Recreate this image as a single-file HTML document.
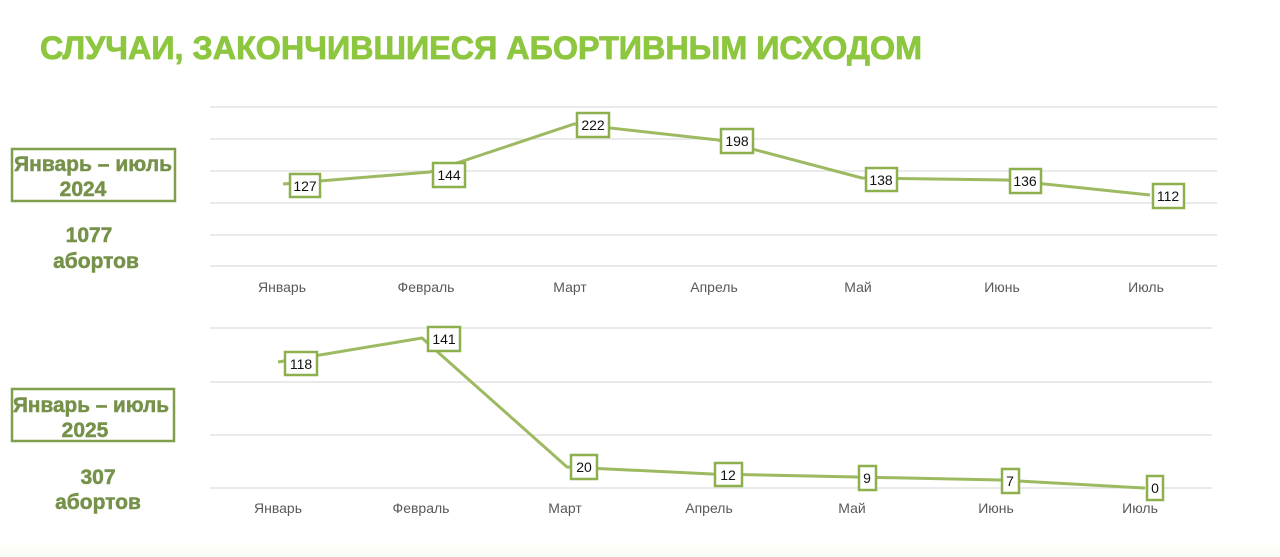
<!DOCTYPE html>
<html><head><meta charset="utf-8"><style>
body{margin:0;background:#fff;}
svg{display:block;font-family:"Liberation Sans","DejaVu Sans",sans-serif;}
</style></head><body>
<svg width="1280" height="557" viewBox="0 0 1280 557">
<rect width="1280" height="557" fill="#fff"/>
<rect x="0" y="545" width="1280" height="12" fill="#fbfdf6"/>
<text x="40" y="59" font-size="32" font-weight="bold" fill="#8dc63f" textLength="882" lengthAdjust="spacingAndGlyphs" stroke="#8dc63f" stroke-width="0.8">СЛУЧАИ, ЗАКОНЧИВШИЕСЯ АБОРТИВНЫМ ИСХОДОМ</text>
<g stroke="#e3e3e3" stroke-width="1.5">
<line x1="210" x2="1217" y1="107" y2="107"/><line x1="210" x2="1217" y1="139" y2="139"/>
<line x1="210" x2="1217" y1="171" y2="171"/><line x1="210" x2="1217" y1="203" y2="203"/>
<line x1="210" x2="1217" y1="235" y2="235"/><line x1="210" x2="1217" y1="266" y2="266"/>
<line x1="210" x2="1212" y1="328" y2="328"/><line x1="210" x2="1212" y1="382" y2="382"/>
<line x1="210" x2="1212" y1="435" y2="435"/><line x1="210" x2="1212" y1="488" y2="488"/>
</g>
<g font-size="14" fill="#595959" text-anchor="middle">
<text x="282" y="292">Январь</text><text x="426" y="292">Февраль</text><text x="570" y="292">Март</text><text x="714" y="292">Апрель</text><text x="858" y="292">Май</text><text x="1002" y="292">Июнь</text><text x="1146" y="292">Июль</text>
<text x="278" y="513">Январь</text><text x="421" y="513">Февраль</text><text x="565" y="513">Март</text><text x="709" y="513">Апрель</text><text x="852" y="513">Май</text><text x="996" y="513">Июнь</text><text x="1140" y="513">Июль</text>
</g>
<g fill="none" stroke="#9dba62" stroke-width="3" stroke-linejoin="round">
<polyline points="283,184 430,172 574,124 718,140 862,178 1006,180 1150,195"/>
<polyline points="278,362 422,338 567,467 712,474 857,477 1000,480 1145,488"/>
</g>
<g fill="#fff" stroke="#8db04f" stroke-width="2.5">
<rect x="290" y="174" width="30" height="23"/><rect x="433" y="163" width="32" height="24"/>
<rect x="577" y="113" width="32" height="24"/><rect x="721" y="129" width="32" height="24"/>
<rect x="866" y="168" width="31" height="23"/><rect x="1010" y="169" width="31" height="24"/>
<rect x="1153" y="184" width="31" height="24"/>
<rect x="285" y="352" width="32" height="23"/><rect x="428" y="327" width="32" height="24"/>
<rect x="571" y="455" width="26" height="24"/><rect x="715" y="463" width="27" height="23"/>
<rect x="859" y="466" width="17" height="24"/><rect x="1002" y="469" width="17" height="24"/>
<rect x="1147" y="476" width="16" height="24"/>
</g>
<g font-size="14" fill="#111" text-anchor="middle">
<text x="305" y="191">127</text><text x="449" y="180">144</text><text x="593" y="130">222</text><text x="737" y="146">198</text>
<text x="881" y="185">138</text><text x="1025" y="186">136</text><text x="1168" y="201">112</text>
<text x="301" y="369">118</text><text x="444" y="344">141</text><text x="584" y="472">20</text><text x="728" y="480">12</text>
<text x="867" y="483">9</text><text x="1010" y="486">7</text><text x="1155" y="493">0</text>
</g>
<g fill="none" stroke="#7f9f4b" stroke-width="2.5">
<rect x="12" y="149" width="163" height="52"/><rect x="12" y="389" width="162" height="52"/>
</g>
<g font-size="21" font-weight="bold" fill="#76924a" stroke="#76924a" stroke-width="0.5" text-anchor="middle">
<text x="93" y="171" textLength="158" lengthAdjust="spacingAndGlyphs">Январь – июль</text><text x="83" y="196">2024</text>
<text x="89" y="242">1077</text><text x="96" y="268">абортов</text>
<text x="91" y="412" textLength="156" lengthAdjust="spacingAndGlyphs">Январь – июль</text><text x="85" y="437">2025</text>
<text x="98" y="484">307</text><text x="98" y="509">абортов</text>
</g>
</svg>
</body></html>
